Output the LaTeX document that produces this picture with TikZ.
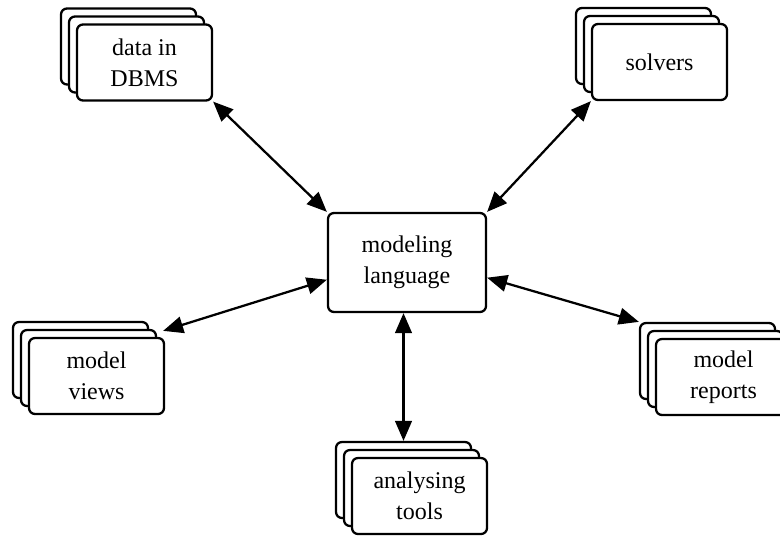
\documentclass[tikz,border=0pt]{standalone}
\usepackage{fontspec}
\setmainfont{Liberation Serif}
\usetikzlibrary{arrows.meta,calc}
\tikzset{
  card/.style={draw, fill=white, line width=1.7pt, rounded corners=4.5pt,
    minimum width=101.25pt, minimum height=57pt, inner sep=0pt,
    align=center, font=\fontsize{18}{23}\selectfont},
  conn/.style={line width=1.7pt, {Triangle[length=15pt,width=12.5pt]}-{Triangle[length=15pt,width=12.5pt]}},
}
\newcommand{\mystack}[4]{%
  \node[card] (#1c) at (#2-16,#3-16) {};
  \node[card] (#1b) at (#2-8,#3-8) {};
  \node[card] (#1) at (#2,#3) {#4};
}
\begin{document}
\begin{tikzpicture}[x=0.75pt,y=-0.75pt]
\useasboundingbox (0,0) rectangle (780,535);
\clip (0,0) rectangle (780,535);
\mystack{dbms}{144.5}{62.5}{data in\\DBMS}
\mystack{solvers}{659.5}{62}{solvers}
\mystack{views}{96.5}{376}{model\\views}
\mystack{reports}{723.5}{377}{model\\reports}
\mystack{tools}{419.5}{496}{analysing\\tools}
\node[card, minimum width=118.5pt, minimum height=74.25pt] (ml) at (407,262.5) {modeling\\language};
\draw[conn] (dbms.south east) -- (ml.north west);
\draw[conn] (solvers.south west) -- (ml.north east);
\draw[conn] ($(ml.north west)!0.67!(ml.south west)$) -- ([shift={(-2,-6)}]views.north east);
\draw[conn] ($(ml.north east)!0.65!(ml.south east)$) -- (reportsc.north west);
\draw[conn] (ml.south -| toolsc.north) -- (toolsc.north);
\end{tikzpicture}
\end{document}
